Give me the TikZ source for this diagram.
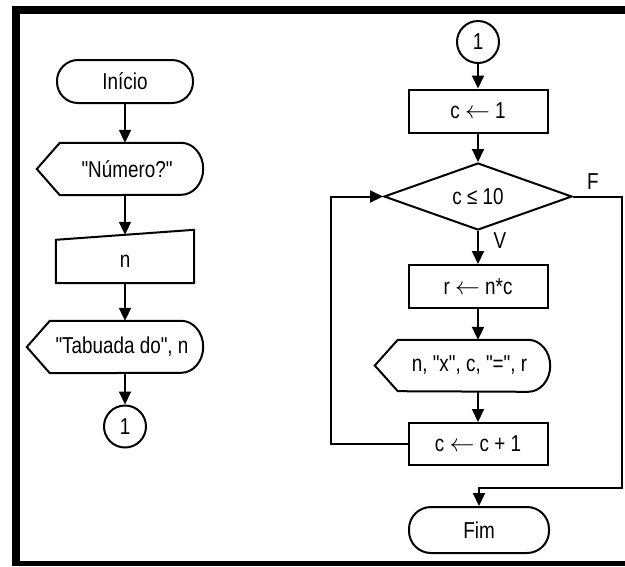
\documentclass[tikz,border=0pt]{standalone}
\usepackage{fontspec}
\setmainfont{Liberation Sans}[FakeStretch=0.82, Ligatures=TeXOff]
\usetikzlibrary{arrows.meta,shapes.geometric}
% assignment arrow
\newcommand\getsarrow{\(\leftarrow\)}
% outline of a display symbol around a named node
\newcommand\displayoutline[1]{%
  \draw[line] ([xshift=-14pt]#1.west) -- ([xshift=9pt]#1.north west)
    -- ([xshift=-22pt]#1.north east)
    arc[start angle=90, end angle=-90, x radius=22pt, y radius=26pt]
    -- ([xshift=9pt]#1.south west) -- cycle;}
% outline of a manual input symbol around a named node
\newcommand\manualoutline[1]{%
  \draw[line] (#1.south west) -- (#1.north west)
    -- ([yshift=10pt]#1.north east) -- (#1.south east) -- cycle;}
\begin{document}
\begin{tikzpicture}[x=1pt,y=-1pt,
  every node/.style={font=\fontsize{23pt}{27pt}\selectfont, inner sep=0pt},
  line/.style={line width=2pt, line join=miter},
  arr/.style={line, -{Triangle[length=13pt,width=12pt]}},
  terminal/.style={draw, line width=2pt, rounded corners=21pt, minimum height=43pt},
  proc/.style={draw, line width=2pt, minimum width=139pt, minimum height=43pt},
  conn/.style={draw, line width=2pt, circle, minimum size=42pt},
  decision/.style={draw, line width=2pt, diamond, aspect=2.8, minimum width=188pt, minimum height=67pt},
  dispbox/.style={minimum height=52pt},
  manbox/.style={minimum height=43pt}
]
\useasboundingbox (0,0) rectangle (625,566);
% page frame
\fill (12,6) rectangle (625,14);
\fill (12,6) rectangle (20,566);
\fill (12,561) rectangle (625,566);

% left column
\node[terminal, minimum width=136pt] (inicio) at (125,81.5) {Início};
\node[dispbox, minimum width=152pt] (num) at (127,169) {"Número?"};
\displayoutline{num}
\node[manbox, minimum width=138pt] (n) at (125,261.5) {n};
\manualoutline{n}
\node[dispbox, minimum width=162pt] (tab) at (122,347) {"Tabuada do", n};
\displayoutline{tab}
\node[conn] (c1a) at (125,426.5) {1};

\draw[arr] (inicio.south) -- (inicio.south |- num.north);
\draw[arr] (num.south -| n.north) -- ([yshift=5pt]n.north);
\draw[arr] (n.south) -- (n.south |- tab.north);
\draw[arr] (n.south |- tab.south) -- (c1a.north);

% right column
\node[conn] (c1b) at (478,42) {1};
\node[proc] (cset) at (478,111) {c \getsarrow{} 1};
\node[decision] (dec) at (478,196.5) {c ≤ 10};
\node[proc] (rset) at (478,286.5) {r \getsarrow{} n*c};
\node[dispbox, minimum width=161pt, minimum height=51pt] (out) at (469.5,365.5) {n, "x", c, "=", r};
\displayoutline{out}
\node[proc, minimum height=42pt] (cinc) at (478,444) {c \getsarrow{} c + 1};
\node[terminal, minimum width=140pt, minimum height=46pt, rounded corners=22pt] (fim) at (479,530) {Fim};

\node (lf) at (593,182) {F};
\node (lv) at (500,241) {V};

\coordinate (loopL) at (331,444);
\coordinate (fR) at (622,488);

\draw[arr] (c1b) -- (cset);
\draw[arr] (cset) -- (dec.north);
\draw[arr] (dec.south) -- (rset.north);
\draw[arr] (rset.south) -- (rset.south |- out.north);
\draw[arr] (rset.south |- out.south) -- (cinc.north);
\draw[arr] (cinc.west) -- (loopL) |- (dec.west);
\draw[arr] (dec.east) -| (fR) -| (fim.north);
\end{tikzpicture}
\end{document}
